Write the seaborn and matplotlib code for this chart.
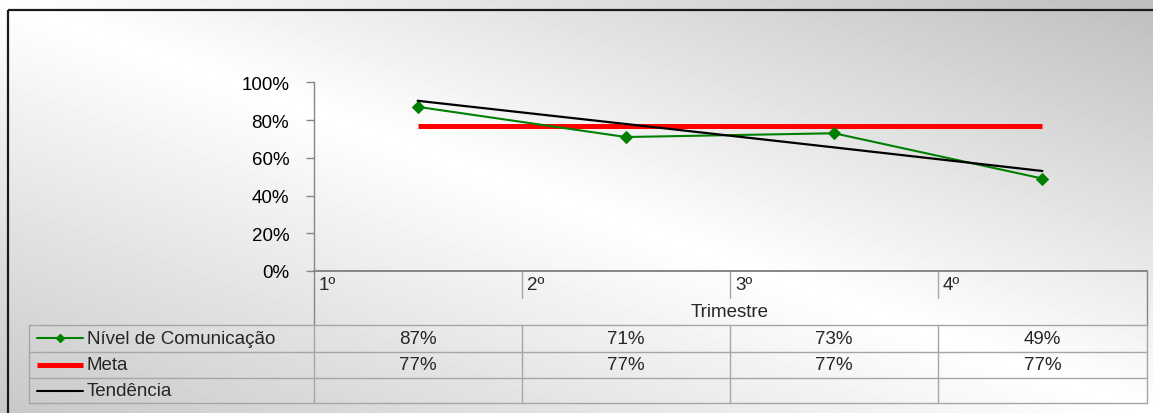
import numpy as np
import pandas as pd
import matplotlib
matplotlib.use("Agg")
import matplotlib.pyplot as plt
from matplotlib.lines import Line2D
import seaborn as sns

# Quarterly communication level, target and trend (percent)
trimestres = ["1º", "2º", "3º", "4º"]
nivel = [87, 71, 73, 49]
meta = [77, 77, 77, 77]
tendencia = [90.2, 77.9, 65.5, 53.0]

serie_nomes = ["Nível de Comunicação", "Meta", "Tendência"]
yticks = [0, 20, 40, 60, 80, 100]

sns.set_style("white")
plt.rcParams["font.family"] = ["Liberation Sans", "DejaVu Sans"]
FS = 13.5
plt.rcParams["font.size"] = FS

W, H = 1153, 414
fig = plt.figure(figsize=(W / 100, H / 100), dpi=100)

# Diagonal grey/white gradient behind the whole chart
bg = fig.add_axes([0, 0, 1, 1], zorder=-10)
yy, xx = np.mgrid[0:H, 0:W]
s = xx / W - yy / H
v = np.where(s > 0, 255 - 65 * s, 255 + 55 * s)
bg.imshow(v, cmap="gray", vmin=0, vmax=255, extent=(0, W, H, 0),
          aspect="auto", interpolation="bilinear")
bg.set_xlim(0, W)
bg.set_ylim(H, 0)
bg.axis("off")
# chart frame (left and top edges)
bg.plot([7.5, 7.5], [10.5, H], color="#1a1a1a", lw=1.6, solid_capstyle="butt")
bg.plot([7.5, W], [10.5, 10.5], color="#1a1a1a", lw=1.6, solid_capstyle="butt")

# Plot area
ax = fig.add_axes([313.5 / W, 1 - 272 / H, 833 / W, (272 - 83.3) / H])
ax.patch.set_alpha(0)

df = pd.DataFrame({"Trimestre": trimestres, "Nivel": nivel,
                   "Meta": meta, "Tendencia": tendencia})

green, red, black = "#008000", "#ff0000", "#000000"
sns.lineplot(data=df, x="Trimestre", y="Meta", ax=ax, color=red, lw=3.6,
             solid_capstyle="butt", sort=False, zorder=2)
sns.lineplot(data=df, x="Trimestre", y="Nivel", ax=ax, color=green, lw=1.5,
             marker="D", markersize=6, markeredgecolor=green,
             markerfacecolor=green, sort=False, zorder=3)
sns.lineplot(data=df, x="Trimestre", y="Tendencia", ax=ax, color=black,
             lw=1.6, sort=False, zorder=4)

n = len(trimestres)
ax.set_xlim(-0.5, n - 0.5)
ax.set_ylim(0, 100)
ax.set_xticks([])
ax.set_xlabel("")
ax.set_ylabel("")
ax.set_yticks(yticks)
ax.set_yticklabels([f"{t}%" for t in yticks], fontsize=FS)
ax.tick_params(axis="y", left=True, length=5.5, width=1, color="#868686",
               pad=12, labelcolor="black")
for side in ["top", "right"]:
    ax.spines[side].set_visible(False)
ax.spines["left"].set_color("#868686")
ax.spines["bottom"].set_color("#868686")
ax.spines["left"].set_linewidth(1)
ax.spines["bottom"].set_linewidth(1.4)

gc = "#a6a6a6"
xt = ax.get_xaxis_transform()
ta = ax.transAxes

# Category band below the axis
y_cat_line = -0.143
y_tab_top, y_r1, y_r2, y_tab_bot = -0.286, -0.429, -0.567, -0.702
for i in range(n + 1):
    x = i - 0.5
    low = y_cat_line if 0 < i < n else y_tab_top
    ax.plot([x, x], [0, low], transform=xt, color=gc if 0 < i < n else "#868686",
            lw=1, clip_on=False)
for i, lab in enumerate(trimestres):
    ax.annotate(lab, xy=(i - 0.5, 0), xycoords=xt, xytext=(3.5, -9.5),
                textcoords="offset points", ha="left", va="center", fontsize=FS)
ax.text(0.5, -0.212, "Trimestre", transform=ta, ha="center", va="center",
        fontsize=FS)

# Data table
x_leg = -0.342
for yv in [y_tab_top, y_r1, y_r2, y_tab_bot]:
    ax.plot([x_leg, 1.0], [yv, yv], transform=ta, color=gc, lw=1, clip_on=False)
ax.plot([x_leg, x_leg], [y_tab_top, y_tab_bot], transform=ta, color=gc, lw=1,
        clip_on=False)
for i in range(n + 1):
    ax.plot([i - 0.5, i - 0.5], [y_tab_top, y_tab_bot], transform=xt, color=gc,
            lw=1, clip_on=False)

row_y = [(y_tab_top + y_r1) / 2, (y_r1 + y_r2) / 2, (y_r2 + y_tab_bot) / 2]
rows = [nivel, meta, None]
for ry, vals in zip(row_y, rows):
    if vals is None:
        continue
    for i, val in enumerate(vals):
        ax.text(i, ry, f"{val}%", transform=xt, ha="center", va="center",
                fontsize=FS)

# Legend keys inside the table
key_x0, key_x1 = -0.3319, -0.2773
key_styles = [
    dict(color=green, lw=1.5, marker="D", markersize=4.5, markevery=[1]),
    dict(color=red, lw=3.6, solid_capstyle="butt"),
    dict(color=black, lw=1.5),
]
for ry, name, st in zip(row_y, serie_nomes, key_styles):
    ln = Line2D([key_x0, (key_x0 + key_x1) / 2, key_x1], [ry, ry, ry],
                transform=ta, clip_on=False, **st)
    ax.add_line(ln)
    ax.text(-0.2725, ry, name, transform=ta, ha="left", va="center",
            fontsize=FS)

fig.savefig("out.png", dpi=100)
